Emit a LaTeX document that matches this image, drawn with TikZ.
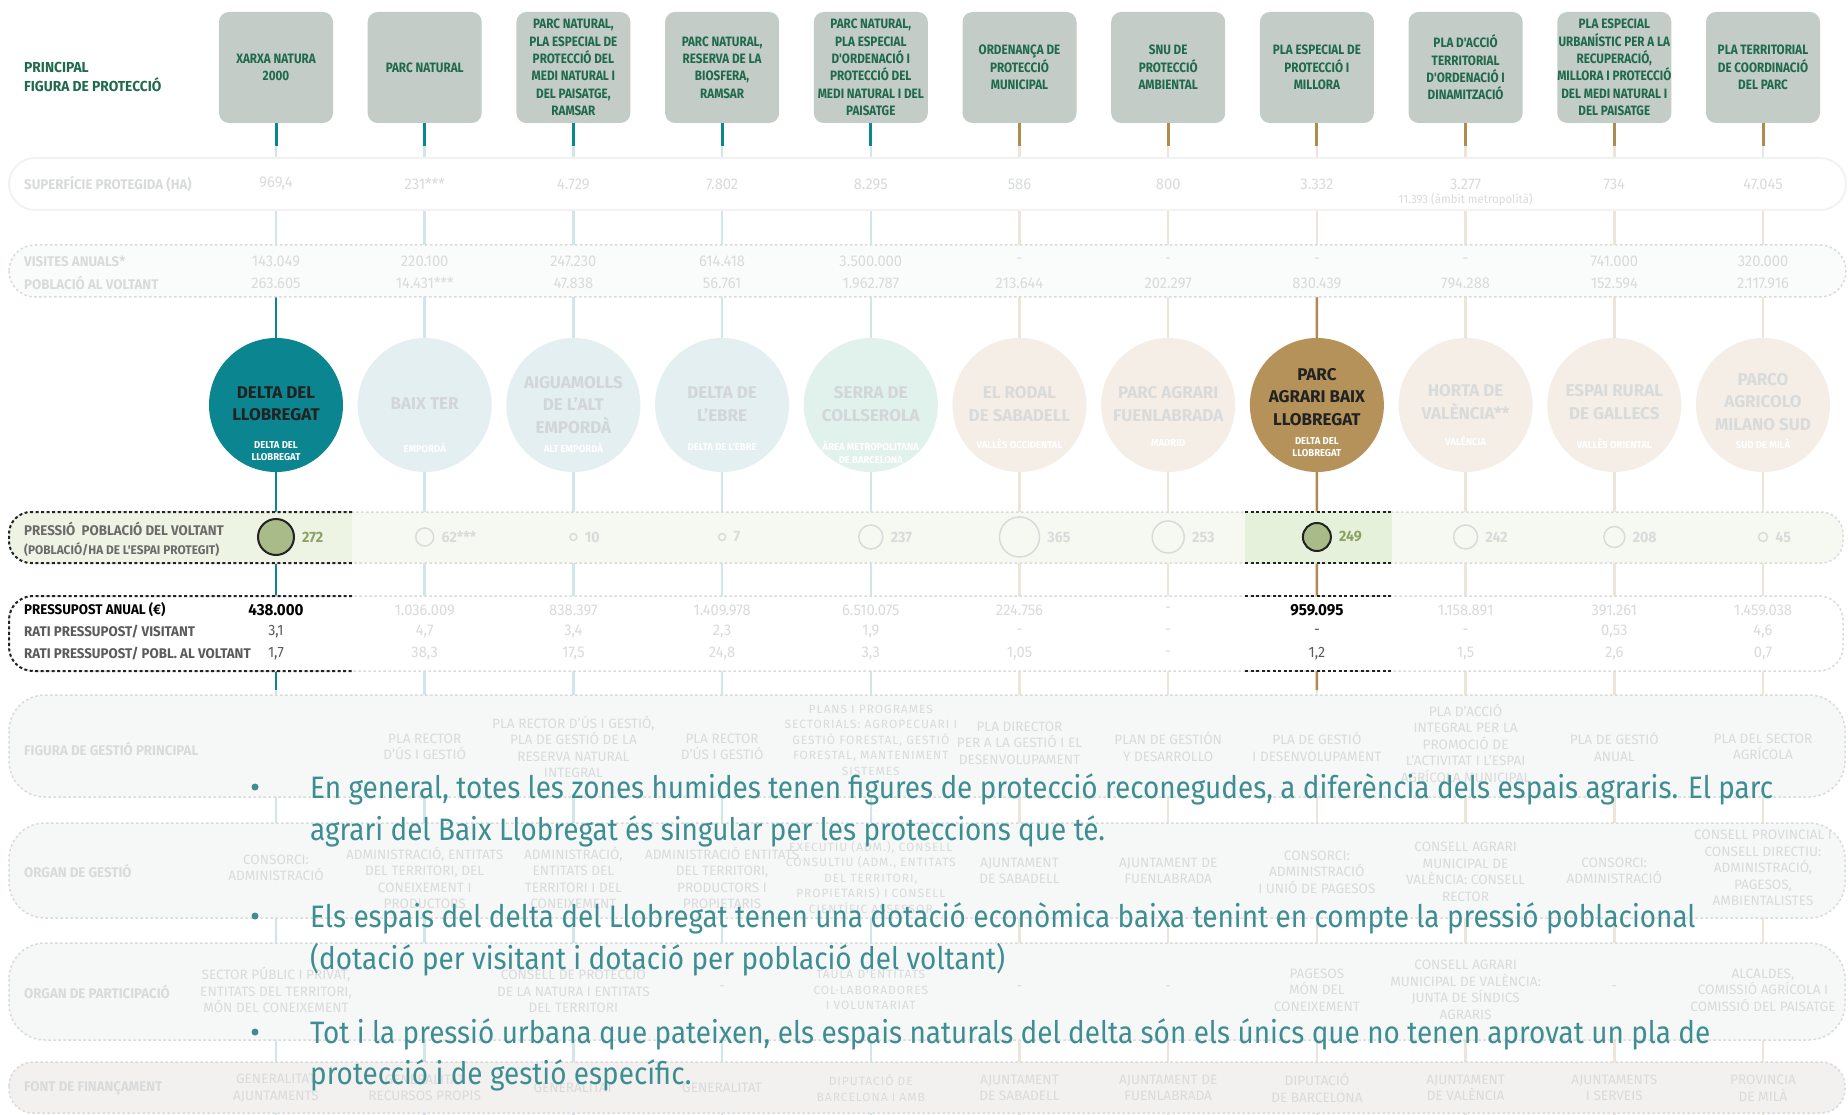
\documentclass[tikz,border=0pt]{standalone}
\usepackage{fontspec}
\setmainfont{Fira Sans}
\newfontfamily\cn{Fira Sans}[FakeStretch=0.95]
\newfontfamily\cnb{Fira Sans}[FakeStretch=0.95]
\newfontfamily\hdrf{Fira Sans}[FakeStretch=0.86]
\newfontfamily\bul{Fira Sans}[FakeStretch=0.9]
\newfontfamily\widef{Fira Sans}[LetterSpace=8]
\definecolor{cHdr}{HTML}{C3CCC6}
\definecolor{cHdrTxt}{HTML}{1F6A4B}
\definecolor{cTeal}{HTML}{0B8590}
\definecolor{cGold}{HTML}{AE8C50}
\definecolor{cFT}{HTML}{D0E7E9}
\definecolor{cFB}{HTML}{EEE5DA}
\definecolor{cC8}{HTML}{B5925A}
\definecolor{cCT}{HTML}{E3EFF1}
\definecolor{cCG}{HTML}{E1F1EB}
\definecolor{cCB}{HTML}{F4EEE7}
\definecolor{cFade}{HTML}{D9DBDB}
\definecolor{cFadeC}{HTML}{D3D6D8}
\definecolor{cRow}{HTML}{F6F7F7}
\definecolor{cRowB}{HTML}{DADADA}
\definecolor{cFont}{HTML}{F3F0F0}
\definecolor{cPres}{HTML}{F6F9F1}
\definecolor{cPresHL}{HTML}{EDF4E4}
\definecolor{cPresHLb}{HTML}{E6F1DC}
\definecolor{cPC}{HTML}{A8BB88}
\definecolor{cPV}{HTML}{8BA263}
\definecolor{cBul}{HTML}{3D8D92}
\definecolor{cDark}{HTML}{222222}
\definecolor{cLbl}{HTML}{5B5B5B}
\tikzset{
  hdr/.style={fill=cHdr, rounded corners=10, minimum width=114, minimum height=111, inner sep=0, align=center, text=cHdrTxt, font=\hdrf\bfseries\fontsize{13.6}{17.4}\selectfont},
  stemT/.style={cTeal, line width=3},
  stemG/.style={cGold, line width=3},
  fadeT/.style={cFT, line width=2.5},
  fadeB/.style={cFB, line width=2.5},
  bigc/.style={circle, minimum size=134, inner sep=0},
  ctxt/.style={align=center, inner sep=0, font=\bfseries\fontsize{17}{22.5}\selectfont},
  csub/.style={align=center, inner sep=0, anchor=north, text=white, font=\cnb\bfseries\fontsize{10}{12.5}\selectfont},
  rowDot/.style={cRowB, line width=1.5, dash pattern=on 2.5pt off 2.5pt},
  darkDash/.style={cDark, line width=2, dash pattern=on 3pt off 2.5pt},
  lbl/.style={anchor=west, inner sep=0, font=\cnb\bfseries\fontsize{14}{17}\selectfont},
  fv/.style={inner sep=0, text=cFade, font=\cn\fontsize{15.5}{17}\selectfont},
  hv/.style={inner sep=0, text=black, font=\cnb\bfseries\fontsize{16}{17}\selectfont},
  mv/.style={inner sep=0, text=cLbl, font=\cn\fontsize{15}{17}\selectfont},
  gt/.style={inner sep=0, align=center, text=cFade, font=\fontsize{13.6}{16.5}\selectfont},
  gtw/.style={inner sep=0, align=center, text=cFade, font=\widef\fontsize{12}{15.5}\selectfont},
  pc/.style={circle, inner sep=0, fill=cPres, draw=cFade, line width=1.5},
  pch/.style={circle, inner sep=0, fill=cPC, draw=cDark, line width=2},
  pv/.style={anchor=west, inner sep=0, font=\cnb\bfseries\fontsize{15}{17}\selectfont},
  bultxt/.style={anchor=base west, inner sep=0, text=cBul, font=\bul\fontsize{31}{36}\selectfont},
  bdot/.style={circle, fill=cBul, minimum size=7, inner sep=0},
}
\begin{document}
\begin{tikzpicture}[x=1pt,y=-1pt]
\useasboundingbox (0,0) rectangle (1848,1115);
\fill[white] (0,0) rectangle (1848,1115);

% ---------- header label
\node[lbl, text=cHdrTxt, align=left, font=\cnb\bfseries\fontsize{14.5}{19}\selectfont] (toplbl) at (24,77) {PRINCIPAL\\FIGURA DE PROTECCIÓ};

% ---------- header boxes
\foreach \i/\t [evaluate=\i as \x using 276+148.7*(\i-1)] in {
  1/{XARXA NATURA\\2000},
  2/{PARC NATURAL},
  3/{PARC NATURAL,\\PLA ESPECIAL DE\\PROTECCIÓ DEL\\MEDI NATURAL I\\DEL PAISATGE,\\RAMSAR},
  4/{PARC NATURAL,\\RESERVA DE LA\\BIOSFERA,\\RAMSAR},
  5/{PARC NATURAL,\\PLA ESPECIAL\\D'ORDENACIÓ I\\PROTECCIÓ DEL\\MEDI NATURAL I DEL\\PAISATGE},
  6/{ORDENANÇA DE\\PROTECCIÓ\\MUNICIPAL},
  7/{SNU DE\\PROTECCIÓ\\AMBIENTAL},
  8/{PLA ESPECIAL DE\\PROTECCIÓ I\\MILLORA},
  9/{PLA D'ACCIÓ\\TERRITORIAL\\D'ORDENACIÓ I\\DINAMITZACIÓ},
  10/{PLA ESPECIAL\\URBANÍSTIC PER A LA\\RECUPERACIÓ,\\MILLORA I PROTECCIÓ\\DEL MEDI NATURAL I\\DEL PAISATGE},
  11/{PLA TERRITORIAL\\DE COORDINACIÓ\\DEL PARC}} {
  \node[hdr] (h\i) at (\x,67.5) {\t};
  \coordinate (s\i) at (\x,146);
  \coordinate (b\i) at (\x,1115);
}

% ---------- faded verticals and stems
\foreach \i in {1,...,5} {
  \draw[fadeT] (s\i) -- (b\i);
  \draw[stemT] (h\i.south) -- (s\i);
}
\foreach \i in {6,...,11} {
  \draw[fadeB] (s\i) -- (b\i);
  \draw[stemG] (h\i.south) -- (s\i);
}

% ---------- big circles
\foreach \i/\c [evaluate=\i as \x using 276+148.7*(\i-1)] in {
  1/cTeal, 2/cCT, 3/cCT, 4/cCT, 5/cCG, 6/cCB, 7/cCB, 8/cC8, 9/cCB, 10/cCB, 11/cCB} {
  \node[bigc, fill=\c] (c\i) at (\x,405) {};
}

% ---------- strong verticals of highlighted columns
\coordinate (v1) at (276,297);
\coordinate (w1) at (276,690);
\coordinate (v8) at (1316.9,297);
\coordinate (w8) at (1316.9,690);
\draw[cTeal, line width=2.5] (v1) -- (c1.north);
\draw[cTeal, line width=2.5] (c1.south) -- (w1);
\draw[cGold, line width=2.5] (v8) -- (c8.north);
\draw[cGold, line width=2.5] (c8.south) -- (w8);

% ---------- rows
\draw[draw=cRow!80!gray!40, line width=2, fill=white, rounded corners=26] (9,158) rectangle (1846,210);
\draw[rowDot, fill=cRow!50, rounded corners=26] (9,245) rectangle (1846,297);
\draw[rowDot, fill=cPres, rounded corners=22] (9,512) rectangle (1843,563);
\begin{scope}
  \clip (0,500) rectangle (352,575);
  \fill[cPresHL, rounded corners=22] (9,512) rectangle (420,563);
\end{scope}
\fill[cPresHLb] (1245,512) rectangle (1392,563);
\draw[darkDash, rounded corners=22] (352,512) -- (9,512) -- (9,563) -- (352,563);
\draw[darkDash] (1245,512) -- (1392,512);
\draw[darkDash] (1245,563) -- (1392,563);
\draw[rowDot, fill=white, rounded corners=24] (9,596) rectangle (1843,671);
\draw[darkDash, rounded corners=24] (352,596) -- (9,596) -- (9,671) -- (352,671);
\draw[darkDash] (1245,596) -- (1392,596);
\draw[darkDash] (1245,671) -- (1392,671);
\draw[rowDot, fill=cRow, rounded corners=36] (9,695) rectangle (1845,797);
\draw[rowDot, fill=cRow, rounded corners=36] (9,823) rectangle (1845,918);
\draw[rowDot, fill=cRow, rounded corners=36] (9,943) rectangle (1845,1040);
\draw[rowDot, fill=cFont, rounded corners=24] (9,1062) rectangle (1845,1113);

% ---------- row labels
\node[lbl, text=cFade] (r1) at (24,184) {SUPERFÍCIE PROTEGIDA (HA)};
\node[lbl, text=cFade] (r2) at (24,261) {VISITES ANUALS*};
\node[lbl, text=cFade] (r3) at (24,283) {POBLACIÓ AL VOLTANT};
\node[lbl, text=cLbl!90] (r4) at (24,529) {PRESSIÓ\ \ POBLACIÓ DEL VOLTANT};
\node[lbl, text=cLbl!90, font=\cnb\bfseries\fontsize{12.5}{15}\selectfont] (r5) at (24,550) {(POBLACIÓ/HA DE L'ESPAI PROTEGIT)};
\node[lbl, text=black] (r6) at (24,610) {PRESSUPOST ANUAL (€)};
\node[lbl, text=cLbl] (r7) at (24,632) {RATI PRESSUPOST/ VISITANT};
\node[lbl, text=cLbl] (r8) at (24,654) {RATI PRESSUPOST/ POBL. AL VOLTANT};
\node[lbl, text=cFade] (r9) at (24,749) {FIGURA DE GESTIÓ PRINCIPAL};
\node[lbl, text=cFade] (r10) at (24,871) {ORGAN DE GESTIÓ};
\node[lbl, text=cFade] (r11) at (24,992) {ORGAN DE PARTICIPACIÓ};
\node[lbl, text=cFade] (r12) at (24,1088) {FONT DE FINANÇAMENT};

% ---------- superficie / visites / poblacio
\foreach \i/\a/\b/\c [evaluate=\i as \x using 276+148.7*(\i-1)] in {
  1/{969,4}/{143.049}/{263.605},
  2/{231***}/{220.100}/{14.431***},
  3/{4.729}/{247.230}/{47.838},
  4/{7.802}/{614.418}/{56.761},
  5/{8.295}/{3.500.000}/{1.962.787},
  6/{586}/{-}/{213.644},
  7/{800}/{-}/{202.297},
  8/{3.332}/{-}/{830.439},
  9/{3.277}/{-}/{794.288},
  10/{734}/{741.000}/{152.594},
  11/{47.045}/{320.000}/{2.117.916}} {
  \node[fv] (sa\i) at (\x,184) {\a};
  \node[fv] (sb\i) at (\x,261) {\b};
  \node[fv] (sc\i) at (\x,283) {\c};
}
\node[fv, font=\cn\fontsize{12}{14}\selectfont] (sx9) at (1465.6,200) {11.393 (àmbit metropolità)};

% ---------- circle texts
\foreach \i/\y/\t/\u/\s/\k [evaluate=\i as \x using 276+148.7*(\i-1)] in {
  1/404/{DELTA DEL\\LLOBREGAT}/{DELTA DEL\\LLOBREGAT}/441/cDark,
  2/404/{BAIX TER}/{EMPORDÀ}/443/cFadeC,
  3/405/{AIGUAMOLLS\\DE L'ALT\\EMPORDÀ}/{ALT EMPORDÀ}/443/cFadeC,
  4/404/{DELTA DE\\L'EBRE}/{DELTA DE L'EBRE}/443/cFadeC,
  5/404/{SERRA DE\\COLLSEROLA}/{ÀREA METROPOLITANA\\DE BARCELONA}/441/cFadeC,
  6/404/{EL RODAL\\DE SABADELL}/{VALLÈS OCCIDENTAL}/439/cFade,
  7/404/{PARC AGRARI\\FUENLABRADA}/{MADRID}/439/cFade,
  8/397/{PARC\\AGRARI BAIX\\LLOBREGAT}/{DELTA DEL\\LLOBREGAT}/437/cDark,
  9/402/{HORTA DE\\VALÈNCIA**}/{VALÈNCIA}/436/cFade,
  10/402/{ESPAI RURAL\\DE GALLECS}/{VALLÈS ORIENTAL}/439/cFade,
  11/402/{PARCO\\AGRICOLO\\MILANO SUD}/{SUD DE MILÀ}/439/cFade} {
  \node[ctxt, text=\k] (ct\i) at (\x,\y) {\t};
  \node[csub] (cs\i) at (\x,\s) {\u};
}

% ---------- pressure circles
\foreach \i/\r/\v/\st/\k [evaluate=\i as \x using 276+148.7*(\i-1)] in {
  1/18/272/pch/cPV, 2/9/{62***}/pc/cFade, 3/3.5/10/pc/cFade, 4/3.5/7/pc/cFade,
  5/12/237/pc/cFade, 6/20/365/pc/cFade, 7/16/253/pc/cFade, 8/14/249/pch/cPV,
  9/12/242/pc/cFade, 10/10.5/208/pc/cFade, 11/4.5/45/pc/cFade} {
  \node[\st, minimum size=2*\r] (p\i) at (\x,537) {};
  \node[pv, text=\k] (pv\i) at ([xshift=7pt]p\i.east) {\v};
}

% ---------- budget rows
\foreach \i/\a/\b/\c/\st/\sm [evaluate=\i as \x using 276+148.7*(\i-1)] in {
  1/{438.000}/{3,1}/{1,7}/hv/mv,
  2/{1.036.009}/{4,7}/{38,3}/fv/fv,
  3/{838.397}/{3,4}/{17,5}/fv/fv,
  4/{1.409.978}/{2,3}/{24,8}/fv/fv,
  5/{6.510.075}/{1,9}/{3,3}/fv/fv,
  6/{224.756}/{-}/{1,05}/fv/fv,
  7/{-}/{-}/{-}/fv/fv,
  8/{959.095}/{-}/{1,2}/hv/mv,
  9/{1.158.891}/{-}/{1,5}/fv/fv,
  10/{391.261}/{0,53}/{2,6}/fv/fv,
  11/{1.459.038}/{4,6}/{0,7}/fv/fv} {
  \node[\st] (ba\i) at (\x,610) {\a};
  \node[\sm] (bb\i) at (\x,632) {\b};
  \node[\sm] (bc\i) at (\x,654) {\c};
}

% ---------- figura de gestio
\foreach \i/\y/\t [evaluate=\i as \x using 276+148.7*(\i-1)] in {
  2/747/{PLA RECTOR\\D'ÚS I GESTIÓ},
  3/747/{PLA RECTOR D'ÚS I GESTIÓ,\\PLA DE GESTIÓ DE LA\\RESERVA NATURAL\\INTEGRAL},
  4/747/{PLA RECTOR\\D'ÚS I GESTIÓ},
  6/743/{PLA DIRECTOR\\PER A LA GESTIÓ I EL\\DESENVOLUPAMENT},
  7/747/{PLAN DE GESTIÓN\\Y DESARROLLO},
  8/747/{PLA DE GESTIÓ\\I DESENVOLUPAMENT},
  9/743/{PLA D'ACCIÓ\\INTEGRAL PER LA\\PROMOCIÓ DE\\L'ACTIVITAT I L'ESPAI\\AGRÍCOLA MUNICIPAL},
  10/747/{PLA DE GESTIÓ\\ANUAL},
  11/747/{PLA DEL SECTOR\\AGRÍCOLA}} {
  \node[gt] (fg\i) at (\x,\y) {\t};
}
\node[gtw] (fg5) at (870.8,740) {PLANS I PROGRAMES\\SECTORIALS: AGROPECUARI I\\GESTIÓ FORESTAL, GESTIÓ\\FORESTAL, MANTENIMENT\\SISTEMES};

% ---------- organ de gestio
\foreach \i/\y/\t [evaluate=\i as \x using 276+148.7*(\i-1)] in {
  1/868/{CONSORCI:\\ADMINISTRACIÓ},
  2/878/{ADMINISTRACIÓ, ENTITATS\\DEL TERRITORI, DEL\\CONEIXEMENT I\\PRODUCTORS},
  3/878/{ADMINISTRACIÓ,\\ENTITATS DEL\\TERRITORI I DEL\\CONEIXEMENT},
  4/878/{ADMINISTRACIÓ ENTITATS\\DEL TERRITORI,\\PRODUCTORS I\\PROPIETARIS},
  6/871/{AJUNTAMENT\\DE SABADELL},
  7/871/{AJUNTAMENT DE\\FUENLABRADA},
  8/872/{CONSORCI:\\ADMINISTRACIÓ\\I UNIÓ DE PAGESOS},
  9/872/{CONSELL AGRARI\\MUNICIPAL DE\\VALÈNCIA: CONSELL\\RECTOR},
  10/871/{CONSORCI:\\ADMINISTRACIÓ},
  11/868/{CONSELL PROVINCIAL I\\CONSELL DIRECTIU:\\ADMINISTRACIÓ,\\PAGESOS,\\AMBIENTALISTES}} {
  \node[gt] (og\i) at (\x,\y) {\t};
}
\node[gtw] (og5) at (870.8,877) {EXECUTIU (ADM.), CONSELL\\CONSULTIU (ADM., ENTITATS\\DEL TERRITORI,\\PROPIETARIS) I CONSELL\\CIENTÍFIC ASSESSOR};

% ---------- organ de participacio
\foreach \i/\y/\t [evaluate=\i as \x using 276+148.7*(\i-1)] in {
  1/990/{SECTOR PÚBLIC I PRIVAT,\\ENTITATS DEL TERRITORI,\\MÓN DEL CONEIXEMENT},
  3/990/{CONSELL DE PROTECCIÓ\\DE LA NATURA I ENTITATS\\DEL TERRITORI},
  4/988/{-},
  6/988/{-},
  7/988/{-},
  8/990/{PAGESOS\\MÓN DEL\\CONEIXEMENT},
  9/990/{CONSELL AGRARI\\MUNICIPAL DE VALÈNCIA:\\JUNTA DE SÍNDICS\\AGRARIS},
  10/988/{-},
  11/990/{ALCALDES,\\COMISSIÓ AGRÍCOLA I\\COMISSIÓ DEL PAISATGE}} {
  \node[gt] (op\i) at (\x,\y) {\t};
}
\node[gtw] (op5) at (870.8,990) {TAULA D'ENTITATS\\COL·LABORADORES\\I VOLUNTARIAT};

% ---------- font de financament
\foreach \i/\t [evaluate=\i as \x using 276+148.7*(\i-1)] in {
  1/{GENERALITAT\\AJUNTAMENTS},
  2/{GENERALITAT\\RECURSOS PROPIS},
  3/{GENERALITAT},
  4/{GENERALITAT},
  6/{AJUNTAMENT\\DE SABADELL},
  7/{AJUNTAMENT DE\\FUENLABRADA},
  8/{DIPUTACIÓ\\DE BARCELONA},
  9/{AJUNTAMENT\\DE VALÈNCIA},
  10/{AJUNTAMENTS\\I SERVEIS},
  11/{PROVINCIA\\DE MILÀ}} {
  \node[gt] (ff\i) at (\x,1088) {\t};
}
\node[gtw] (ff5) at (870.8,1088) {DIPUTACIÓ DE\\BARCELONA I AMB};

% ---------- bullet text
\node[bdot] (d1) at (255,787) {};
\node[bdot] (d2) at (255,916) {};
\node[bdot] (d3) at (255,1032) {};
\node[bultxt] (l1) at (310,798) {En general, totes les zones humides tenen figures de protecció reconegudes, a diferència dels espais agraris. El parc};
\node[bultxt] (l2) at (310,840) {agrari del Baix Llobregat és singular per les proteccions que té.};
\node[bultxt] (l3) at (310,927) {Els espais del delta del Llobregat tenen una dotació econòmica baixa tenint en compte la pressió poblacional};
\node[bultxt] (l4) at (310,969) {(dotació per visitant i dotació per població del voltant)};
\node[bultxt] (l5) at (310,1043) {Tot i la pressió urbana que pateixen, els espais naturals del delta són els únics que no tenen aprovat un pla de};
\node[bultxt] (l6) at (310,1084) {protecció i de gestió específic.};
\end{tikzpicture}
\end{document}
